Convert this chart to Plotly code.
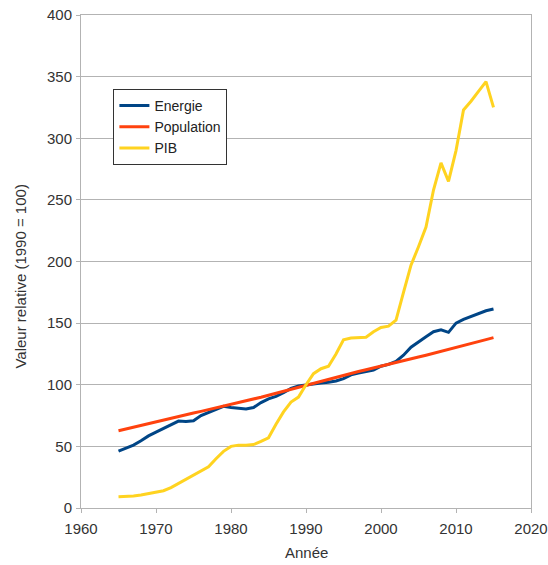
import plotly.graph_objects as go

years = list(range(1965, 2016))

energie = [46.2, 48.5, 51.0, 54.5, 58.5, 61.5, 64.5, 67.5, 70.5, 70.2,
           70.8, 75.0, 77.5, 80.5, 82.5, 81.5, 80.8, 80.3, 81.5, 85.5,
           88.5, 90.5, 93.5, 97.0, 99.0, 100.0, 101.0, 101.5, 102.0, 103.0,
           105.0, 108.0, 109.5, 110.5, 112.0, 115.0, 116.5, 119.0, 124.0, 130.5,
           135.0, 139.0, 143.0, 144.5, 142.5, 150.0, 153.0, 155.5, 158.0, 160.0,
           161.5]

population = [62.7, 64.2, 65.6, 67.0, 68.4, 69.9, 71.4, 72.9, 74.3, 75.8,
              77.1, 78.4, 79.8, 81.1, 82.5, 83.9, 85.3, 86.8, 88.4, 89.9,
              91.5, 93.1, 94.8, 96.5, 98.2, 100.0, 101.6, 103.2, 104.8, 106.3,
              107.8, 109.3, 110.7, 112.2, 113.6, 115.1, 116.6, 118.0, 119.5, 121.0,
              122.5, 124.0, 125.5, 127.1, 128.6, 130.2, 131.8, 133.4, 135.0, 136.6,
              138.2]

pib = [9.2, 9.4, 9.8, 10.5, 11.5, 12.5, 14.0, 16.5, 20.0, 23.5,
       27.0, 30.0, 33.5, 40.0, 46.0, 50.0, 51.0, 51.0, 51.5, 54.0,
       57.0, 68.0, 78.0, 86.0, 90.0, 100.0, 109.0, 113.0, 115.0, 125.0,
       136.5, 138.0, 138.0, 138.5, 143.0, 146.5, 147.5, 152.5, 175.0, 197.0,
       212.0, 228.0, 258.0, 280.0, 265.0, 290.0, 323.0, 330.0, 338.0, 346.0,
       325.0]

x_ticks = [1960, 1970, 1980, 1990, 2000, 2010, 2020]
y_ticks = [0, 50, 100, 150, 200, 250, 300, 350, 400]

FONT = "Liberation Sans, Arial, sans-serif"
GRID = "#b3b3b3"
TXT = "#333333"

fig = go.Figure()
fig.add_trace(go.Scatter(x=years, y=energie, name="Energie", mode="lines",
                         line=dict(color="#004586", width=3)))
fig.add_trace(go.Scatter(x=years, y=population, name="Population", mode="lines",
                         line=dict(color="#ff420e", width=3)))
fig.add_trace(go.Scatter(x=years, y=pib, name="PIB", mode="lines",
                         line=dict(color="#ffd320", width=3)))

fig.update_layout(
    width=548, height=565,
    margin=dict(l=81, r=17, t=15, b=57, autoexpand=False),
    paper_bgcolor="white", plot_bgcolor="white",
    font=dict(family=FONT, size=15, color=TXT),
    showlegend=True,
    legend=dict(x=0.072, y=0.85, xanchor="left", yanchor="top",
                bgcolor="white", bordercolor="#333333", borderwidth=1,
                font=dict(family=FONT, size=14, color="#222222"),
                tracegroupgap=0, itemwidth=30),
    annotations=[
        dict(text="Année", xref="paper", yref="paper", x=0.5, y=-0.09,
             xanchor="center", yanchor="middle", showarrow=False,
             font=dict(family=FONT, size=15, color=TXT)),
        dict(text="Valeur relative (1990 = 100)", xref="paper", yref="paper",
             x=-0.135, y=0.47, xanchor="center", yanchor="middle", textangle=-90,
             showarrow=False, font=dict(family=FONT, size=15, color=TXT)),
    ],
)
fig.update_xaxes(
    range=[1960, 2020], tickvals=x_ticks, ticktext=[str(v) for v in x_ticks],
    showgrid=False, zeroline=False, automargin=False,
    showline=True, linecolor=GRID, linewidth=1, mirror=True,
    ticks="outside", ticklen=4, tickcolor=GRID, ticklabelstandoff=3,
)
fig.update_yaxes(
    range=[0, 400], tickvals=y_ticks, ticktext=[str(v) for v in y_ticks],
    showgrid=True, gridcolor=GRID, gridwidth=1, zeroline=False, automargin=False,
    showline=True, linecolor=GRID, linewidth=1, mirror=True,
    ticks="outside", ticklen=4, tickcolor=GRID, ticklabelstandoff=1,
)

fig.write_html(
    "out.html",
    config={"displayModeBar": False},
    post_script="document.body.style.margin='0';document.body.style.overflow='hidden';",
)
